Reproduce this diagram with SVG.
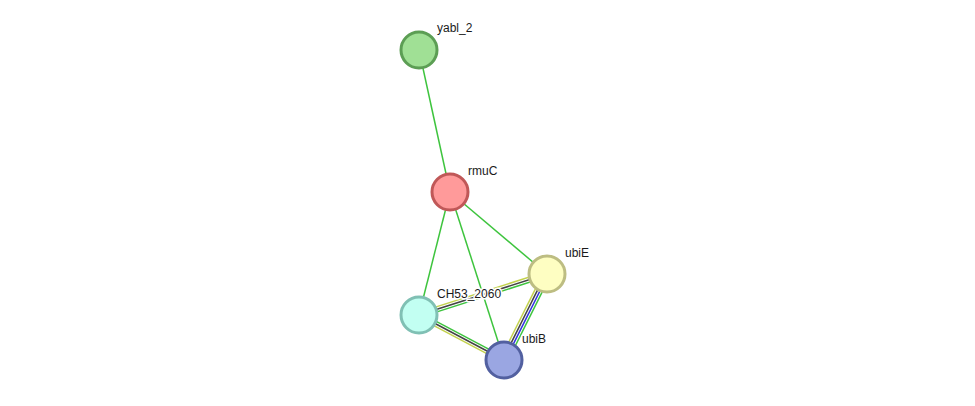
<svg xmlns="http://www.w3.org/2000/svg" width="975" height="406" viewBox="0 0 975 406">
<style>
.g{stroke:#3ec43e;stroke-width:1.5;fill:none}
.y{stroke:#c3d24d;stroke-width:1.5;fill:none}
.k{stroke:#444444;stroke-width:1.5;fill:none}
.b{stroke:#3535e0;stroke-width:1.5;fill:none}
.n{stroke-width:3}
.t{font-family:"Liberation Sans",Arial,sans-serif;font-size:12px;fill:#1a1a1a;stroke:#ffffff;stroke-width:3;stroke-linejoin:round;paint-order:stroke}
</style>
<rect width="975" height="406" fill="#ffffff"/>
<g id="connectors">
<line class="g" x1="419" y1="50" x2="450" y2="192"/>
<line class="g" x1="450" y1="192" x2="547" y2="274"/>
<line class="g" x1="450" y1="192" x2="419" y2="315"/>
<line class="g" x1="450" y1="192" x2="504" y2="360"/>
<line class="y" x1="418.24" y1="312.62" x2="546.24" y2="271.62"/>
<line class="k" x1="419" y1="315" x2="547" y2="274"/>
<line class="g" x1="419.76" y1="317.38" x2="547.76" y2="276.38"/>
<line class="g" x1="420.17" y1="312.79" x2="505.17" y2="357.79"/>
<line class="k" x1="419" y1="315" x2="504" y2="360"/>
<line class="y" x1="417.83" y1="317.21" x2="502.83" y2="362.21"/>
<line class="y" x1="543.65" y1="272.32" x2="500.65" y2="358.32"/>
<line class="k" x1="545.88" y1="273.44" x2="502.88" y2="359.44"/>
<line class="b" x1="548.12" y1="274.56" x2="505.12" y2="360.56"/>
<line class="g" x1="550.35" y1="275.68" x2="507.35" y2="361.68"/>
</g>
<g id="yabl_2">
<circle class="n" cx="419" cy="50" r="18" fill="#a0e095" stroke="#5c9e54"/>
<text class="t" x="437" y="32">yabl_2</text>
</g>
<g id="rmuC">
<circle class="n" cx="450" cy="192" r="18" fill="#ff9a9a" stroke="#c05858"/>
<text class="t" x="468" y="175">rmuC</text>
</g>
<g id="ubiE">
<circle class="n" cx="547" cy="274" r="18" fill="#fefec2" stroke="#bdbd82"/>
<text class="t" x="565" y="257">ubiE</text>
</g>
<g id="CH53_2060">
<circle class="n" cx="419" cy="315" r="18" fill="#c2fff2" stroke="#80c0b4"/>
<text class="t" x="437" y="298">CH53_2060</text>
</g>
<g id="ubiB">
<circle class="n" cx="504" cy="360" r="18" fill="#9aa6e2" stroke="#5260a0"/>
<text class="t" x="522" y="343">ubiB</text>
</g>
</svg>
